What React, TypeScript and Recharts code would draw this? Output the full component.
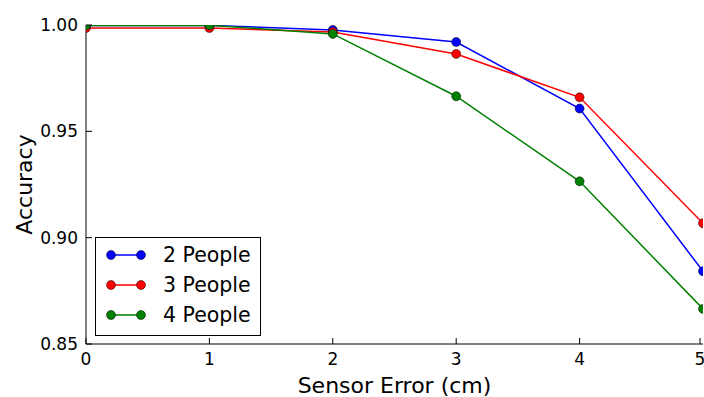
import { LineChart, Line, XAxis, YAxis, Legend } from "recharts";

const sensorError = [0, 1, 2, 3, 4, 5];
const twoPeople = [0.9998, 0.9998, 0.9977, 0.992, 0.9607, 0.8842];
const threePeople = [0.9986, 0.9986, 0.9967, 0.9864, 0.966, 0.9068];
const fourPeople = [0.9998, 0.9999, 0.9958, 0.9665, 0.9265, 0.8665];

const xTicks = [0, 1, 2, 3, 4, 5];
const yTicks = [0.85, 0.9, 0.95, 1.0];

const SERIES = [
  { key: "p2", name: "2 People", color: "#0000ff", values: twoPeople },
  { key: "p3", name: "3 People", color: "#ff0000", values: threePeople },
  { key: "p4", name: "4 People", color: "#008000", values: fourPeople },
];

const data = sensorError.map((x, i) => ({
  x,
  p2: twoPeople[i],
  p3: threePeople[i],
  p4: fourPeople[i],
}));

const FONT = "'DejaVu Sans', sans-serif";
const TICK = 6;

// matplotlib-style inward ticks with labels outside
const BottomTick = (props: any) => {
  const { x, y, payload } = props;
  return (
    <g>
      <line x1={x} y1={y} x2={x} y2={y - TICK} stroke="#000" />
      <text x={x} y={y + 21} textAnchor="middle" fontSize={17} fontFamily={FONT} fill="#000">
        {payload.value}
      </text>
    </g>
  );
};

const LeftTick = (props: any) => {
  const { x, y, payload } = props;
  return (
    <g>
      <line x1={x} y1={y} x2={x + TICK} y2={y} stroke="#000" />
      <text x={x - 8} y={y} dy="0.35em" textAnchor="end" fontSize={17} fontFamily={FONT} fill="#000">
        {Number(payload.value).toFixed(2)}
      </text>
    </g>
  );
};

const TopTick = (props: any) => {
  const { x, y } = props;
  return <line x1={x} y1={y} x2={x} y2={y + TICK} stroke="#000" />;
};

const RightTick = (props: any) => {
  const { x, y } = props;
  return <line x1={x} y1={y} x2={x - TICK} y2={y} stroke="#000" />;
};

function LegendBox() {
  return (
    <div
      style={{
        border: "1px solid #000",
        background: "#fff",
        width: 164,
        height: 95,
        boxSizing: "content-box",
        fontFamily: FONT,
        fontSize: 20.5,
        paddingTop: 2,
      }}
    >
      {SERIES.map((s) => (
        <div key={s.key} style={{ display: "flex", alignItems: "center", height: 30 }}>
          <svg width={60} height={14} style={{ marginLeft: 7 }}>
            <line x1={8} y1={7} x2={38} y2={7} stroke={s.color} strokeWidth={1.5} />
            <circle cx={8} cy={7} r={4.5} fill={s.color} stroke="#000" strokeWidth={0.5} />
            <circle cx={38} cy={7} r={4.5} fill={s.color} stroke="#000" strokeWidth={0.5} />
          </svg>
          <span style={{ color: "#000" }}>{s.name}</span>
        </div>
      ))}
    </div>
  );
}

export default function App() {
  return (
    <div style={{ position: "absolute", left: 0, top: 0, background: "#fff" }}>
      <LineChart
        width={704}
        height={397}
        data={data}
        margin={{ top: 25, right: 1, bottom: 0, left: 0 }}
      >
        <XAxis
          dataKey="x"
          type="number"
          domain={[0, 5]}
          ticks={xTicks}
          allowDataOverflow
          height={53}
          tickSize={0}
          tickMargin={0}
          tick={<BottomTick />}
          axisLine={{ stroke: "#000" }}
          label={{
            value: "Sensor Error (cm)",
            position: "insideBottom",
            offset: 4,
            style: { fontSize: 22, fontFamily: FONT, fill: "#000" },
          }}
        />
        <XAxis
          xAxisId="top"
          orientation="top"
          dataKey="x"
          type="number"
          domain={[0, 5]}
          ticks={xTicks}
          allowDataOverflow
          height={0}
          tickSize={0}
          tickMargin={0}
          tick={<TopTick />}
          axisLine={{ stroke: "#000" }}
        />
        <YAxis
          type="number"
          domain={[0.85, 1.0]}
          ticks={yTicks}
          allowDataOverflow
          width={86}
          tickSize={0}
          tickMargin={0}
          tick={<LeftTick />}
          axisLine={{ stroke: "#000" }}
          label={{
            value: "Accuracy",
            angle: -90,
            position: "insideLeft",
            offset: 24,
            style: { fontSize: 22, fontFamily: FONT, fill: "#000", textAnchor: "middle" },
          }}
        />
        <YAxis
          yAxisId="right"
          orientation="right"
          type="number"
          domain={[0.85, 1.0]}
          ticks={yTicks}
          allowDataOverflow
          width={0}
          tickSize={0}
          tickMargin={0}
          tick={<RightTick />}
          axisLine={{ stroke: "#000" }}
        />
        {SERIES.map((s) => (
          <Line
            key={s.key}
            dataKey={s.key}
            name={s.name}
            type="linear"
            stroke={s.color}
            strokeWidth={1.5}
            dot={{ r: 4.5, fill: s.color, stroke: "#000", strokeWidth: 0.5, clipDot: true }}
            activeDot={false}
            isAnimationActive={false}
          />
        ))}
        <Legend
          layout="vertical"
          align="center"
          verticalAlign="middle"
          content={<LegendBox />}
          wrapperStyle={{ left: 95, top: 237, width: "auto" }}
        />
      </LineChart>
    </div>
  );
}
